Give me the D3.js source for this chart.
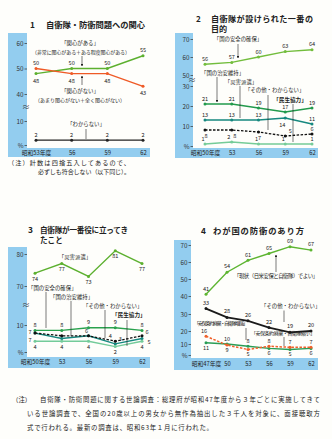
<!DOCTYPE html>
<html>
<head>
<meta charset="utf-8">
<script src="https://cdn.jsdelivr.net/npm/d3@7"></script>
<style>
  body { margin: 0; background: #fefefb; }
  svg { display: block; }
</style>
</head>
<body>
<svg id="chart" width="332" height="439"></svg>
<script>
// ---- data (%) ----
// 1 自衛隊・防衛問題への関心
const p1Years = ["53", "56", "59", "62"];
const p1Interest = [48, 50, 50, 55];
const p1NoInterest = [50, 48, 48, 43];
const p1DontKnow = [2, 2, 2, 2];

// 2 自衛隊が設けられた一番の目的
const p2Years = ["50", "53", "56", "59", "62"];
const p2Security = [56, 57, 60, 63, 64];
const p2Order = [21, 21, 19, 17, 19];
const p2Disaster = [13, 13, 13, 14, 11];
const p2Other = [8, 8, 7, 5, 6];
const p2Civil = [1, 2, 1, 1, 1];

// 3 自衛隊が一番役に立ってきたこと
const p3Years = ["50", "53", "56", "59", "62"];
const p3Disaster = [74, 77, 73, 81, 77];
const p3Security = [8, 8, 9, 9, 8];
const p3Order = [7, 5, 6, 3, 5];
const p3Other = [7, 6, 6, 4, 6];
const p3Civil = [4, 4, 4, 2, 4];

// 4 わが国の防衛のあり方
const p4Years = ["47", "50", "53", "56", "59", "62"];
const p4Status = [41, 54, 61, 65, 69, 67];
const p4Other = [33, 28, 26, 22, 19, 20];
const p4Strengthen = [11, 10, 8, 6, 5, 6];
const p4Reduce = [16, 9, 5, 8, 7, 7];

// tick labels
const p1Ticks = [[40, 50, 60], [0, 10]];
const p2Ticks = [[50, 60, 70], [0, 10, 20, 30]];
const p3Ticks = [[70, 80], [0, 10]];
const p4Ticks = [0, 10, 20, 30, 40, 50, 60, 70];

// ---- drawing ----
const FONT = '"Noto Sans CJK JP", "Noto Sans", sans-serif';
const BLUE = "#93cdef";
const INK = "#222";

const svg = d3.select("#chart").style("font-family", FONT);
svg.append("rect").attr("width", 332).attr("height", 439).attr("fill", "#fefefb");

const defs = svg.append("defs");
defs.append("marker").attr("id", "arr")
  .attr("viewBox", "0 0 6 6").attr("refX", 5).attr("refY", 3)
  .attr("markerWidth", 4).attr("markerHeight", 4).attr("orient", "auto")
  .append("path").attr("d", "M0,0L6,3L0,6Z").attr("fill", INK);

function txt(g, t, x, y, o = {}) {
  const el = g.append("text").attr("x", x).attr("y", y)
    .attr("font-size", o.size || 5.4).attr("fill", o.fill || INK)
    .attr("text-anchor", o.anchor || "start")
    .attr("font-weight", o.bold ? "bold" : null)
    .text(t);
  if (o.len) el.attr("textLength", o.len).attr("lengthAdjust", "spacing");
  return el;
}

function pointer(g, x, y1, y2, arrow) {
  g.append("line").attr("x1", x).attr("x2", x).attr("y1", y1).attr("y2", y2)
    .attr("stroke", INK).attr("stroke-width", 0.6)
    .attr("marker-end", arrow ? "url(#arr)" : null);
}

function drawPanel(p) {
  const g = svg.append("g");

  // blue axis strip + bottom band
  g.append("rect").attr("x", p.stripX).attr("y", p.top)
    .attr("width", p.stripW).attr("height", p.bandBottom - p.top).attr("fill", BLUE);
  g.append("rect").attr("x", p.stripX).attr("y", p.bandTop)
    .attr("width", p.bandRight - p.stripX).attr("height", p.bandBottom - p.bandTop).attr("fill", BLUE);

  const x = d3.scalePoint().domain(p.years).range(p.xRange);
  const ys = p.segs.map(s => d3.scaleLinear().domain(s.domain).range(s.range));
  const axisX = p.stripX + p.stripW;

  p.segs.forEach((s, i) => {
    const ax = g.append("g").attr("transform", `translate(${axisX},0)`)
      .call(d3.axisLeft(ys[i]).tickValues(s.ticks).tickSize(2.5).tickPadding(1)
        .tickFormat(d => d === 0 ? "%" : d));
    ax.select(".domain").remove();
    ax.selectAll("line").attr("stroke", "#333").attr("stroke-width", 0.7);
    ax.selectAll("text").attr("font-size", 6.3).attr("fill", "#333").attr("font-family", FONT);
  });

  // axis break mark
  if (ys.length > 1) {
    const yb = (p.segs[0].range[0] + p.segs[1].range[1]) / 2;
    txt(g, "≈", axisX - 1, yb + 2.5, { size: 8, anchor: "middle", fill: "#333" });
  }

  const xa = g.append("g").attr("transform", `translate(0,${p.bandTop})`)
    .call(d3.axisBottom(x).tickSize(0).tickPadding(p.xPad || 2.5)
      .tickFormat((d, i) => i === 0 ? `昭和${d}年度` : d));
  xa.select(".domain").remove();
  xa.selectAll("text").attr("font-size", 5.8).attr("fill", INK).attr("font-family", FONT);

  p.series.forEach(s => {
    const y = ys[s.seg || 0];
    const pts = s.values.map((v, i) => ({ v, yr: p.years[i], i }));
    const line = d3.line().x(d => x(d.yr)).y(d => y(d.v));
    g.append("path").datum(pts).attr("d", line)
      .attr("fill", "none").attr("stroke", s.color)
      .attr("stroke-width", s.w || 1.4)
      .attr("stroke-dasharray", s.dash || null);
    g.selectAll(null).data(pts).join("circle")
      .attr("cx", d => x(d.yr)).attr("cy", d => y(d.v)).attr("r", 1.5).attr("fill", s.color);
    if (s.lab) {
      const off = i => Array.isArray(s.lab[0]) || s.lab[0] === null ? s.lab[i] : s.lab;
      g.selectAll(null).data(pts.filter(d => off(d.i))).join("text")
        .attr("x", d => x(d.yr) + off(d.i)[0])
        .attr("y", d => y(d.v) + off(d.i)[1])
        .attr("text-anchor", "middle").attr("font-size", 5.6).attr("fill", INK)
        .text(d => d.v);
    }
  });
  return g;
}

// ---- panel 1 ----
const g1 = drawPanel({
  stripX: 8, stripW: 19, top: 33, bandTop: 148, bandBottom: 157, bandRight: 150,
  years: p1Years, xRange: [36, 143],
  segs: [
    { domain: [40, 60], range: [94, 43], ticks: p1Ticks[0] },
    { domain: [0, 10], range: [145, 121], ticks: p1Ticks[1] }
  ],
  series: [
    { values: p1Interest, color: "#5cb02f", lab: [[0, 9], [0, -3.5], [0, -3.5], [0, -3.5]] },
    { values: p1NoInterest, color: "#ef5a26", lab: [[0, -3.5], [0, 9], [0, 9], [0, 9]] },
    { values: p1DontKnow, seg: 1, color: INK, w: 1.3, lab: [0, -3.5] }
  ]
});
txt(svg, "1", 30, 27.5, { size: 8.3, bold: true });
txt(svg, "自衛隊・防衛問題への関心", 46, 27.5, { size: 8.3, bold: true, len: 99 });
txt(g1, "「関心がある」", 80, 44.5, { anchor: "middle" });
txt(g1, "（非常に関心がある＋ある程度関心がある）", 81, 54, { anchor: "middle", size: 5, len: 98 });
pointer(g1, 82, 56, 66, true);
pointer(g1, 82, 85, 76, true);
txt(g1, "「関心がない」", 80, 92.5, { anchor: "middle" });
txt(g1, "（あまり関心がない＋全く関心がない）", 80, 101.5, { anchor: "middle", size: 5, len: 90 });
txt(g1, "「わからない」", 86, 126, { anchor: "middle" });
pointer(g1, 86, 129, 139, false);
txt(svg, "（注）計数は四捨五入してあるので、", 8, 164.5, { size: 6.2, len: 122 });
txt(svg, "必ずしも符合しない（以下同じ）。", 38, 173.5, { size: 6, len: 92 });

// ---- panel 2 ----
const g2 = drawPanel({
  stripX: 175, stripW: 18, top: 33, bandTop: 148, bandBottom: 158, bandRight: 318,
  years: p2Years, xRange: [205, 312],
  segs: [
    { domain: [50, 70], range: [75, 39], ticks: p2Ticks[0] },
    { domain: [0, 30], range: [146, 86], ticks: p2Ticks[1] }
  ],
  series: [
    { values: p2Security, color: "#72bd3c", lab: [0, -3.5] },
    { values: p2Order, seg: 1, color: "#229a4c", lab: [0, -3.5] },
    { values: p2Disaster, seg: 1, color: "#16887f", lab: [[0, -3.5], [0, -3.5], [0, -3.5], [-3, 9], [0, -3.5]] },
    { values: p2Other, seg: 1, color: "#111", w: 1.3, dash: "2.5,1.5", lab: [[1, 7.5], [3, 7.5], [1, 7.5], [5, -3], [0, -3]] },
    { values: p2Civil, seg: 1, color: "#75cc98", lab: [[-2, -3.5], [-3, -3.5], [-2, -3.5], [-2, -3.5], [0, -3.5]] }
  ]
});
txt(svg, "2", 196, 22, { size: 8.1, bold: true });
txt(svg, "自衛隊が設けられた一番の", 211, 22, { size: 8.1, bold: true, len: 102 });
txt(svg, "目的", 211, 31.8, { size: 8.1, bold: true });
txt(g2, "「国の安全の確保」", 238, 41, { anchor: "middle" });
pointer(g2, 238, 44, 58, true);
txt(g2, "「国の治安維持」", 201, 74.5);
pointer(g2, 217, 77, 102, true);
txt(g2, "「災害派遣」", 241, 83.5, { anchor: "middle" });
pointer(g2, 240, 86, 118, false);
txt(g2, "「その他・わからない」", 245, 92);
pointer(g2, 268, 95, 130, false);
txt(g2, "「民生協力」", 290, 102, { anchor: "middle", size: 5.6, bold: true });
pointer(g2, 293, 104, 142, false);

// ---- panel 3 ----
const g3 = drawPanel({
  stripX: 8, stripW: 19, top: 247, bandTop: 357, bandBottom: 368, bandRight: 150,
  years: p3Years, xRange: [35, 142],
  segs: [
    { domain: [70, 80], range: [286, 254], ticks: p3Ticks[0] },
    { domain: [0, 10], range: [352, 325], ticks: p3Ticks[1] }
  ],
  series: [
    { values: p3Disaster, color: "#5cb02f", lab: [0, 7.5] },
    { values: p3Security, seg: 1, color: "#2aa24e", lab: [0, -3.5] },
    { values: p3Order, seg: 1, color: "#16887f", lab: [[-5, 8.5], null, null, [5, -3], [7, 5]] },
    { values: p3Other, seg: 1, color: "#111", w: 1.3, dash: "2.5,1.5", lab: [[-5, 0.5], null, [-2, -3], [-5, -3], [5, -2]] },
    { values: p3Civil, seg: 1, color: "#73cb9a", lab: [0, 7.5] }
  ]
});
txt(svg, "3", 28, 232.5, { size: 8.3, bold: true });
txt(svg, "自衛隊が一番役に立ってき", 40, 232.5, { size: 7.6, bold: true, len: 88 });
txt(svg, "たこと", 40, 242.5, { size: 7.6, bold: true });
txt(g3, "「災害派遣」", 75, 259, { anchor: "middle" });
txt(g3, "「国の安全の確保」", 28, 289.5);
pointer(g3, 46, 292, 328, false);
txt(g3, "「国の治安維持」", 50, 298.5);
pointer(g3, 71, 301, 336, false);
txt(g3, "「その他・わからない」", 83, 307.5);
pointer(g3, 105, 310, 338, false);
txt(g3, "「民生協力」", 112, 317, { size: 5.6, bold: true });
pointer(g3, 127, 320, 346, false);

// ---- panel 4 ----
const g4 = drawPanel({
  stripX: 174, stripW: 17, top: 240, bandTop: 358, bandBottom: 370, bandRight: 318,
  years: p4Years, xRange: [206, 311], xPad: 3.5,
  segs: [
    { domain: [0, 10, 20, 30, 40, 70], range: [355, 344, 331, 314, 296, 245], ticks: p4Ticks }
  ],
  series: [
    { values: p4Status, color: "#5db531", lab: [0, -3.8] },
    { values: p4Other, color: "#1a1a1a", w: 1.8, lab: [0, -4] },
    { values: p4Strengthen, color: "#2a9d55", lab: [[0, 7], [0, -3.5], [0, -3.5], [0, 6.5], [0, 6], [0, 6.5]] },
    { values: p4Reduce, color: "#f0602a", w: 1.5, dash: "2.5,1.5", lab: [[-2, -3], [0, 7], [0, 6], [0, -3], [0, -3], [0, -3]] }
  ]
});
txt(svg, "4", 201, 234, { size: 8.3, bold: true });
txt(svg, "わが国の防衛のあり方", 213, 234, { size: 8.3, bold: true, len: 91 });
txt(g4, "「現状（日米安保と自衛隊）でよい」", 234, 278, { len: 84 });
pointer(g4, 276, 272, 255, true);
txt(g4, "「その他・わからない」", 261, 307.5);
pointer(g4, 284, 310.5, 322, false);
txt(g4, "「安保条約廃棄・自衛隊増強」", 194, 325, { size: 5.1, len: 54 });
pointer(g4, 246, 328, 340, false);
txt(g4, "「安保条約廃棄・自衛隊縮小」", 251, 335, { size: 5.1, len: 64 });
pointer(g4, 284, 337, 346, false);

// ---- bottom note ----
txt(svg, "（注）", 12, 402, { size: 6.4 });
txt(svg, "自衛隊・防衛問題に関する世論調査：総理府が昭和47年度から３年ごとに実施してきて", 40, 402, { size: 6.4, len: 280 });
txt(svg, "いる世論調査で、全国の20歳以上の男女から無作為抽出した３千人を対象に、面接聴取方", 27, 415.5, { size: 6.4, len: 293 });
txt(svg, "式で行われる。最新の調査は、昭和63年１月に行われた。", 27, 429.5, { size: 6.4, len: 186 });
</script>
</body>
</html>
